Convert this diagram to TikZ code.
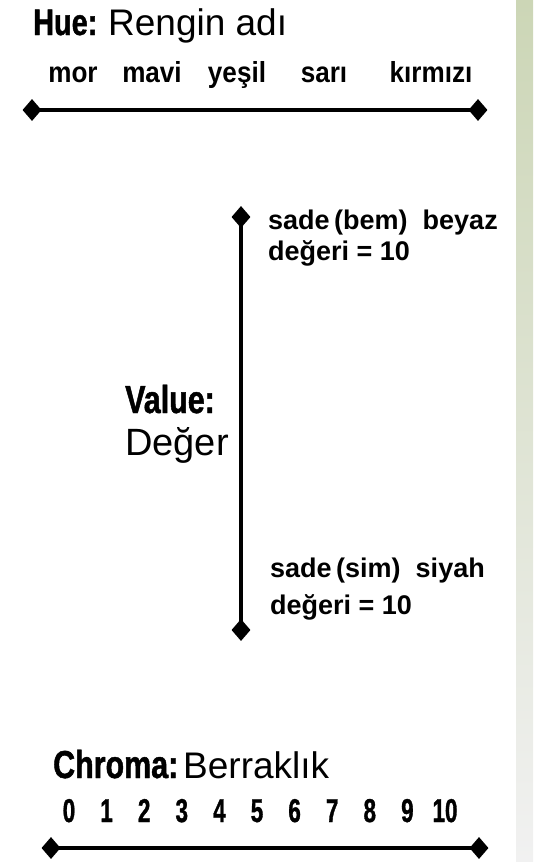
\documentclass[tikz,border=0pt]{standalone}
\usepackage{fontspec}
\setmainfont{Liberation Sans}
\newfontfamily\condf{Liberation Sans}[FakeStretch=0.78, FakeBold=1.2]
\newfontfamily\wordf{Liberation Sans}[FakeStretch=0.9]
\newfontfamily\digitf{Liberation Sans}[FakeStretch=0.68, FakeBold=1]
\usetikzlibrary{shapes.geometric}
\definecolor{stripTop}{RGB}{204,214,182}
\definecolor{stripMid}{RGB}{234,238,224}
\definecolor{stripBot}{RGB}{241,241,241}
\tikzset{
  ttlbox/.style={anchor=base west, inner sep=0pt, font=\condf\bfseries\fontsize{37}{40}\selectfont},
  termbox/.style={anchor=base west, inner sep=0pt, font=\fontsize{37}{40}\selectfont},
  huewordbox/.style={anchor=base, inner sep=0pt, font=\wordf\bfseries\fontsize{29}{32}\selectfont},
  vlabelbox/.style={anchor=base west, inner sep=0pt, font=\bfseries\fontsize{27}{30}\selectfont},
  digitbox/.style={anchor=base, inner sep=0pt, font=\digitf\bfseries\fontsize{33}{36}\selectfont},
  tipbox/.style={diamond, fill=black, draw=none, inner sep=0pt, minimum width=19pt, minimum height=22pt},
  axisline/.style={line width=3.5pt, black}
}
\begin{document}
\begin{tikzpicture}[x=1pt, y=-1pt]
\useasboundingbox (0,0) rectangle (533,862);
\fill[white] (0,0) rectangle (516,862);
\shade[top color=stripTop, middle color=stripMid, bottom color=stripBot] (516,0) rectangle (533,862);

% Hue
\node[ttlbox] (hue) at (33,35) {Hue:};
\node[termbox] (rengin) at (108,35) {Rengin adı};
\node[huewordbox] (mor) at (73,82) {mor};
\node[huewordbox] (mavi) at (152,82) {mavi};
\node[huewordbox] (yesil) at (237,82) {yeşil};
\node[huewordbox] (sari) at (324,82) {sarı};
\node[huewordbox] (kirmizi) at (431,82) {kırmızı};
\node[tipbox] (hl) at (32,110) {};
\node[tipbox] (hr) at (478,110) {};
\draw[axisline] (hl.center) -- (hr.center);

% Value
\node[tipbox] (vt) at (241,217) {};
\node[tipbox] (vb) at (241,630) {};
\draw[axisline] (vt.center) -- (vb.center);
\node[vlabelbox] (beyaz) at (268,229) {sade\,(bem)\ \ beyaz};
\node[vlabelbox] (beyazd) at (268,260) {değeri = 10};
\node[vlabelbox] (siyah) at (270,577) {sade\,(sim)\ \ siyah};
\node[vlabelbox] (siyahd) at (270,614) {değeri = 10};
\node[ttlbox, font=\condf\bfseries\fontsize{39}{42}\selectfont] (value) at (125,413) {Value:};
\node[termbox, font=\fontsize{38}{41}\selectfont] (deger) at (125,455) {Değer};

% Chroma
\node[ttlbox, font=\condf\bfseries\fontsize{39}{42}\selectfont] (chroma) at (53,778) {Chroma:};
\node[termbox] (berrak) at (183,778) {Berraklık};
\foreach \i in {0,...,10} {
  \node[digitbox] (d\i) at ({69+37.6*\i},822) {\i};
}
\node[tipbox] (cl) at (51,848) {};
\node[tipbox] (cr) at (479,848) {};
\draw[axisline] (cl.center) -- (cr.center);
\end{tikzpicture}
\end{document}
